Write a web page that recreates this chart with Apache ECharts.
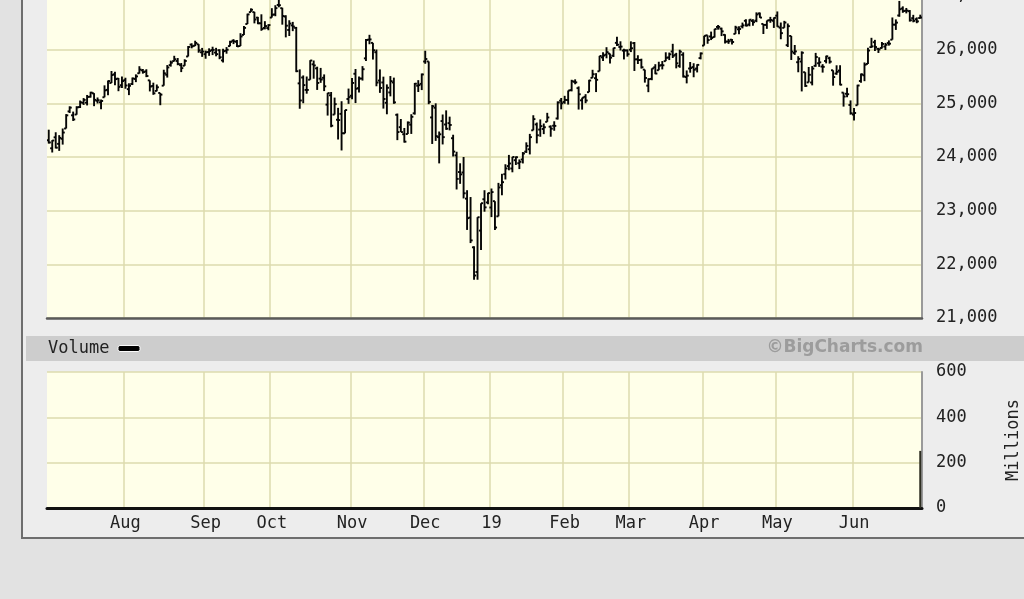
<!DOCTYPE html>
<html>
<head>
<meta charset="utf-8">
<script src="https://cdn.jsdelivr.net/npm/echarts@6/dist/echarts.min.js"></script>
<style>
html,body{margin:0;padding:0;background:#e2e2e2;}
#chart{width:1024px;height:599px;}
</style>
</head>
<body>
<div id="chart"></div>
<script>
// Trading days (categories)
const dates = [
"2018-06-29",
"2018-07-02","2018-07-03","2018-07-05","2018-07-06","2018-07-09","2018-07-10","2018-07-11","2018-07-12","2018-07-13","2018-07-16","2018-07-17","2018-07-18","2018-07-19","2018-07-20","2018-07-23","2018-07-24","2018-07-25","2018-07-26","2018-07-27","2018-07-30","2018-07-31",
"2018-08-01","2018-08-02","2018-08-03","2018-08-06","2018-08-07","2018-08-08","2018-08-09","2018-08-10","2018-08-13","2018-08-14","2018-08-15","2018-08-16","2018-08-17","2018-08-20","2018-08-21","2018-08-22","2018-08-23","2018-08-24","2018-08-27","2018-08-28","2018-08-29","2018-08-30","2018-08-31",
"2018-09-04","2018-09-05","2018-09-06","2018-09-07","2018-09-10","2018-09-11","2018-09-12","2018-09-13","2018-09-14","2018-09-17","2018-09-18","2018-09-19","2018-09-20","2018-09-21","2018-09-24","2018-09-25","2018-09-26","2018-09-27","2018-09-28",
"2018-10-01","2018-10-02","2018-10-03","2018-10-04","2018-10-05","2018-10-08","2018-10-09","2018-10-10","2018-10-11","2018-10-12","2018-10-15","2018-10-16","2018-10-17","2018-10-18","2018-10-19","2018-10-22","2018-10-23","2018-10-24","2018-10-25","2018-10-26","2018-10-29","2018-10-30","2018-10-31",
"2018-11-01","2018-11-02","2018-11-05","2018-11-06","2018-11-07","2018-11-08","2018-11-09","2018-11-12","2018-11-13","2018-11-14","2018-11-15","2018-11-16","2018-11-19","2018-11-20","2018-11-21","2018-11-23","2018-11-26","2018-11-27","2018-11-28","2018-11-29","2018-11-30",
"2018-12-03","2018-12-04","2018-12-06","2018-12-07","2018-12-10","2018-12-11","2018-12-12","2018-12-13","2018-12-14","2018-12-17","2018-12-18","2018-12-19","2018-12-20","2018-12-21","2018-12-24","2018-12-26","2018-12-27","2018-12-28","2018-12-31",
"2019-01-02","2019-01-03","2019-01-04","2019-01-07","2019-01-08","2019-01-09","2019-01-10","2019-01-11","2019-01-14","2019-01-15","2019-01-16","2019-01-17","2019-01-18","2019-01-22","2019-01-23","2019-01-24","2019-01-25","2019-01-28","2019-01-29","2019-01-30","2019-01-31",
"2019-02-01","2019-02-04","2019-02-05","2019-02-06","2019-02-07","2019-02-08","2019-02-11","2019-02-12","2019-02-13","2019-02-14","2019-02-15","2019-02-19","2019-02-20","2019-02-21","2019-02-22","2019-02-25","2019-02-26","2019-02-27","2019-02-28",
"2019-03-01","2019-03-04","2019-03-05","2019-03-06","2019-03-07","2019-03-08","2019-03-11","2019-03-12","2019-03-13","2019-03-14","2019-03-15","2019-03-18","2019-03-19","2019-03-20","2019-03-21","2019-03-22","2019-03-25","2019-03-26","2019-03-27","2019-03-28","2019-03-29",
"2019-04-01","2019-04-02","2019-04-03","2019-04-04","2019-04-05","2019-04-08","2019-04-09","2019-04-10","2019-04-11","2019-04-12","2019-04-15","2019-04-16","2019-04-17","2019-04-18","2019-04-22","2019-04-23","2019-04-24","2019-04-25","2019-04-26","2019-04-29","2019-04-30",
"2019-05-01","2019-05-02","2019-05-03","2019-05-06","2019-05-07","2019-05-08","2019-05-09","2019-05-10","2019-05-13","2019-05-14","2019-05-15","2019-05-16","2019-05-17","2019-05-20","2019-05-21","2019-05-22","2019-05-23","2019-05-24","2019-05-28","2019-05-29","2019-05-30","2019-05-31",
"2019-06-03","2019-06-04","2019-06-05","2019-06-06","2019-06-07","2019-06-10","2019-06-11","2019-06-12","2019-06-13","2019-06-14","2019-06-17","2019-06-18","2019-06-19","2019-06-20","2019-06-21","2019-06-24","2019-06-25","2019-06-26","2019-06-27","2019-06-28"
];

// Daily [open, high, low, close]
const ohlc = [
[24311,24509,24250,24271],
// Jul 2018
[24162,24315,24084,24307],[24367,24461,24159,24174],[24245,24407,24114,24357],[24339,24531,24231,24456],[24531,24799,24531,24776],
[24850,24945,24820,24920],[24777,24846,24672,24700],[24791,24946,24788,24925],[24930,25052,24913,25019],[25009,25098,24970,25064],
[25012,25156,24961,25120],[25123,25216,25107,25199],[25186,25190,24947,25065],[25048,25109,24997,25058],[25019,25070,24890,25044],
[25113,25335,25113,25242],[25251,25425,25150,25415],[25379,25602,25379,25527],[25541,25587,25336,25451],[25461,25473,25226,25307],
[25338,25498,25284,25415],
// Aug 2018
[25432,25477,25272,25333],[25264,25374,25153,25327],[25361,25481,25341,25463],[25454,25540,25395,25502],[25560,25692,25554,25629],
[25614,25640,25553,25583],[25595,25635,25488,25509],[25428,25428,25222,25313],[25324,25385,25159,25187],[25231,25351,25224,25299],
[25193,25193,24965,25162],[25329,25626,25329,25559],[25533,25713,25480,25669],[25713,25796,25684,25758],[25787,25886,25780,25822],
[25789,25844,25710,25733],[25711,25751,25582,25656],[25700,25821,25699,25790],[25873,26068,25873,26050],[26094,26118,26025,26064],
[26073,26167,26067,26125],[26101,26103,25943,25987],[25951,26033,25866,25965],
// Sep 2018
[25916,25982,25831,25952],[25955,26025,25885,25975],[25993,26055,25899,25996],[25946,26034,25876,25917],[25989,26007,25822,25858],
[25800,26018,25762,25971],[25980,26048,25925,25999],[26066,26167,26062,26145],[26166,26195,26104,26155],[26148,26178,26050,26062],
[26067,26307,26067,26246],[26275,26443,26271,26406],[26478,26671,26478,26657],[26700,26770,26700,26744],[26700,26705,26490,26562],
[26597,26611,26474,26492],[26492,26659,26352,26385],[26405,26531,26378,26440],[26403,26474,26362,26458],
// Oct 2018
[26598,26773,26598,26651],[26656,26828,26623,26774],[26833,26951,26789,26828],[26773,26781,26466,26627],[26617,26641,26229,26447],
[26367,26548,26255,26487],[26452,26518,26345,26431],[26406,26424,25581,25599],[25372,25633,24899,25053],[25481,25520,25002,25340],
[25250,25500,25180,25250],[25440,25804,25440,25798],[25727,25798,25459,25706],[25652,25683,25250,25380],[25460,25660,25382,25444],
[25476,25539,25228,25317],[24976,25195,24772,25191],[25150,25211,24554,24583],[24790,25107,24790,24985],[24694,24916,24326,24688],
[24804,25039,24122,24443],[24441,24878,24441,24875],[25081,25275,24990,25116],
// Nov 2018
[25142,25470,25078,25380],[25551,25640,25005,25271],[25283,25502,25200,25462],[25462,25693,25424,25636],[25838,26199,25790,26181],
[26187,26277,26101,26191],[26127,26127,25816,25989],[25952,26002,25318,25387],[25425,25632,25195,25286],[25389,25497,24902,25081],
[25010,25353,24796,25290],[25203,25508,25130,25414],[25389,25479,24991,25018],[24786,24810,24314,24465],[24556,24708,24466,24465],
[24424,24541,24268,24286],[24428,24663,24428,24640],[24602,24797,24430,24749],[24814,25380,24790,25366],[25328,25432,25211,25339],
[25363,25556,25247,25538],
// Dec 2018
[25779,25980,25737,25826],[25781,25781,24984,25027],[24737,24970,24243,24947],[24918,25000,24300,24389],[24370,24475,23881,24423],
[24670,24792,24234,24370],[24606,24869,24506,24527],[24631,24752,24496,24597],[24350,24415,24009,24101],[24031,24098,23395,23592],
[23720,23883,23500,23676],[23712,24000,23228,23324],[23224,23381,22641,22860],[22871,23254,22396,22446],[22317,22339,21712,21792],
[21857,22879,21713,22878],[22629,23138,22267,23139],[23213,23381,22981,23062],[23153,23333,23118,23327],
// Jan 2019
[23059,23413,22880,23346],[23177,23177,22638,22686],[22894,23518,22894,23433],[23474,23687,23287,23531],[23680,23865,23581,23787],
[23831,24039,23752,23879],[23786,24002,23715,24001],[23940,24011,23852,23996],[23884,23955,23775,23910],[23954,24092,23880,24065],
[24100,24273,24076,24207],[24144,24431,24048,24370],[24497,24778,24497,24706],[24607,24642,24254,24405],[24511,24700,24377,24575],
[24522,24624,24426,24554],[24655,24823,24655,24737],[24565,24589,24378,24528],[24583,24666,24489,24580],[24718,25037,24698,25015],
[25050,25100,24888,24999],
// Feb 2019
[25025,25140,24992,25064],[25062,25239,24977,25239],[25246,25439,25223,25411],[25401,25447,25355,25391],[25283,25315,24884,25169],
[25056,25106,24883,25106],[25122,25171,25002,25053],[25208,25439,25208,25425],[25475,25625,25475,25543],[25468,25563,25210,25439],
[25597,25884,25597,25883],[25856,25950,25788,25891],[25907,26046,25839,25954],[25927,25928,25744,25851],[25888,26035,25864,26031],
[26127,26241,26070,26092],[26050,26156,25985,26057],[25983,26017,25818,25986],[25985,26004,25870,25916],
// Mar 2019
[25999,26155,25955,26026],[26122,26143,25603,25819],[25820,25896,25733,25806],[25806,25832,25648,25673],[25628,25628,25386,25473],
[25330,25466,25208,25450],[25456,25652,25431,25650],[25671,25729,25543,25555],[25617,25775,25617,25702],[25713,25788,25632,25709],
[25786,25951,25786,25849],[25855,25946,25806,25914],[25966,26109,25845,25887],[25906,25941,25652,25746],[25698,25999,25663,25962],
[25905,25951,25481,25502],[25490,25613,25372,25516],[25649,25770,25571,25658],[25676,25747,25486,25626],[25648,25729,25576,25717],
[25843,25949,25819,25929],
// Apr 2019
[26076,26259,26076,26258],[26268,26268,26110,26180],[26246,26337,26179,26218],[26235,26388,26227,26385],[26423,26460,26373,26425],
[26392,26410,26253,26341],[26277,26285,26116,26150],[26152,26201,26108,26157],[26186,26200,26098,26143],[26294,26445,26294,26412],
[26379,26437,26286,26385],[26432,26505,26397,26453],[26538,26567,26430,26450],[26469,26566,26436,26559],[26535,26568,26446,26512],
[26540,26695,26512,26656],[26676,26692,26593,26598],[26480,26480,26292,26462],[26462,26544,26388,26543],[26550,26611,26501,26554],
[26538,26601,26405,26593],
// May 2019
[26634,26712,26426,26430],[26410,26506,26194,26308],[26407,26537,26407,26505],[26084,26488,26049,26438],[26256,26256,25808,25965],
[25939,26087,25903,25968],[25766,25878,25579,25828],[25779,25969,25222,25942],[25580,25580,25306,25325],[25390,25677,25390,25532],
[25388,25694,25335,25648],[25699,25940,25682,25863],[25747,25858,25680,25764],[25685,25730,25573,25680],[25789,25888,25745,25877],
[25841,25869,25740,25776],[25616,25616,25329,25490],[25555,25709,25532,25586],[25611,25710,25335,25348],[25200,25202,24939,25127],
[25178,25290,25115,25170],[24969,25055,24790,24815],
// Jun 2019
[24791,24911,24680,24820],[24964,25347,24964,25332],[25416,25554,25385,25540],[25523,25762,25413,25720],[25735,26035,25735,25984],
[26047,26221,26033,26062],[26139,26183,25975,26049],[26015,26034,25939,26005],[26031,26143,26021,26107],[26058,26126,25993,26090],
[26124,26173,26075,26112],[26186,26600,26186,26466],[26466,26564,26368,26504],[26637,26908,26613,26753],[26767,26807,26687,26719],
[26726,26777,26676,26728],[26717,26738,26523,26548],[26587,26649,26510,26537],[26568,26601,26493,26527],[26590,26652,26579,26600]
];

// Volume (millions) – only the last session is drawn in the reference
const volumeDates = ["2019-06-28"];
const volumeMillions = [252];

// Tick labels
const priceTicks = [21000, 22000, 23000, 24000, 25000, 26000, 27000];
const volumeTicks = [0, 200, 400, 600];
const monthLabels = ["19","Feb","Mar","Apr","May","Jun","Jul","Aug","Sep","Oct","Nov","Dec"];

const FONT = "DejaVu Sans Mono";
const gridColor = "#dcdbae";

// month boundaries that get a grid line and a label (the partial first month is skipped)
function isMonthStart(i) {
  if (i < 5) return false;
  return dates[i].slice(0, 7) !== dates[i - 1].slice(0, 7);
}

const ohlcData = ohlc.map((r, i) => [i, r[0], r[1], r[2], r[3]]);
const volumeData = dates.map(d => {
  const k = volumeDates.indexOf(d);
  return k >= 0 ? volumeMillions[k] : null;
});

function renderOHLC(params, api) {
  const i = api.value(0);
  const o = api.coord([i, api.value(1)]);
  const h = api.coord([i, api.value(2)]);
  const l = api.coord([i, api.value(3)]);
  const c = api.coord([i, api.value(4)]);
  const w = api.size([1, 0])[0] * 0.6;
  const st = { stroke: "#050505", lineWidth: 1.9 };
  return {
    type: "group",
    children: [
      { type: "line", shape: { x1: h[0], y1: h[1], x2: l[0], y2: l[1] }, style: st },
      { type: "line", shape: { x1: o[0] - w, y1: o[1], x2: o[0], y2: o[1] }, style: st },
      { type: "line", shape: { x1: c[0], y1: c[1], x2: c[0] + w, y2: c[1] }, style: st }
    ]
  };
}

const chart = echarts.init(document.getElementById("chart"), null, { renderer: "canvas" });

const option = {
  backgroundColor: "#e2e2e2",
  animation: false,
  graphic: [
    { type: "rect", z: -10, shape: { x: 22, y: -10, width: 1010, height: 548 },
      style: { fill: "#ededed", stroke: "#6e6e6e", lineWidth: 2 } },
    { type: "rect", z: -9, shape: { x: 26, y: 336, width: 1000, height: 25 },
      style: { fill: "#cdcdcd" } },
    { type: "text", z: 5, x: 48, y: 349,
      style: { text: "Volume", font: "17px " + FONT, fill: "#222", textVerticalAlign: "middle", textAlign: "left" } },
    { type: "rect", z: 5, shape: { x: 118, y: 345.5, width: 22, height: 6, r: 2 },
      style: { fill: "#000", stroke: "#fafafa", lineWidth: 1 } },
    { type: "text", z: 5, x: 923, y: 348,
      style: { text: "\u00A9BigCharts.com", font: "bold 17px 'DejaVu Sans'", fill: "#9c9c9c", textAlign: "right", textVerticalAlign: "middle" } }
  ],
  grid: [
    { left: 47, right: 102, top: -4, height: 322, show: true, backgroundColor: "#ffffe9", borderWidth: 0,
      outerBoundsMode: "none", containLabel: false },
    { left: 47, right: 102, top: 372, height: 136, show: true, backgroundColor: "#ffffe9", borderWidth: 0,
      outerBoundsMode: "none", containLabel: false }
  ],
  xAxis: [
    {
      type: "category", gridIndex: 0, data: dates, boundaryGap: true,
      axisLine: { show: true, lineStyle: { color: "#5a5a5a", width: 2.5 } },
      axisTick: { show: false, interval: isMonthStart },
      axisLabel: { show: false },
      splitLine: { show: true, interval: isMonthStart, lineStyle: { color: gridColor, width: 1.5 } }
    },
    {
      type: "category", gridIndex: 1, data: dates, boundaryGap: true,
      axisLine: { show: true, lineStyle: { color: "#111", width: 3 } },
      axisTick: { show: false, interval: isMonthStart },
      axisLabel: {
        show: true, interval: isMonthStart, margin: 7,
        fontFamily: FONT, fontSize: 17, color: "#222",
        formatter: v => monthLabels[(parseInt(v.slice(5, 7), 10) - 1)]
      },
      splitLine: { show: true, interval: isMonthStart, lineStyle: { color: gridColor, width: 1.5 } }
    }
  ],
  yAxis: [
    {
      type: "value", gridIndex: 0, position: "right",
      min: priceTicks[0], max: priceTicks[priceTicks.length - 1], interval: 1000,
      axisLine: { show: true, lineStyle: { color: "#9a9a9a", width: 2 } },
      axisTick: { show: false },
      axisLabel: { margin: 14, fontFamily: FONT, fontSize: 17, color: "#222", padding: [4, 0, 0, 0],
        formatter: v => v.toLocaleString("en-US") },
      splitLine: { show: true, lineStyle: { color: gridColor, width: 1.5 } }
    },
    {
      type: "value", gridIndex: 1, position: "right",
      min: volumeTicks[0], max: volumeTicks[volumeTicks.length - 1], interval: 200,
      name: "Millions", nameLocation: "middle", nameRotate: 90, nameGap: 83,
      nameTextStyle: { fontFamily: FONT, fontSize: 17, color: "#222" },
      axisLine: { show: true, lineStyle: { color: "#9a9a9a", width: 2 } },
      axisTick: { show: false },
      axisLabel: { margin: 14, fontFamily: FONT, fontSize: 17, color: "#222", padding: [4, 0, 0, 0] },
      splitLine: { show: true, lineStyle: { color: gridColor, width: 1.5 } }
    }
  ],
  series: [
    {
      type: "custom", name: "Price", xAxisIndex: 0, yAxisIndex: 0,
      renderItem: renderOHLC, data: ohlcData, clip: true,
      encode: { x: 0, y: [1, 2, 3, 4] }, z: 3
    },
    {
      type: "bar", name: "Volume", xAxisIndex: 1, yAxisIndex: 1,
      data: volumeData, barWidth: 2, itemStyle: { color: "#2e2e22" }, z: 3
    }
  ]
};

chart.setOption(option);
</script>
</body>
</html>
